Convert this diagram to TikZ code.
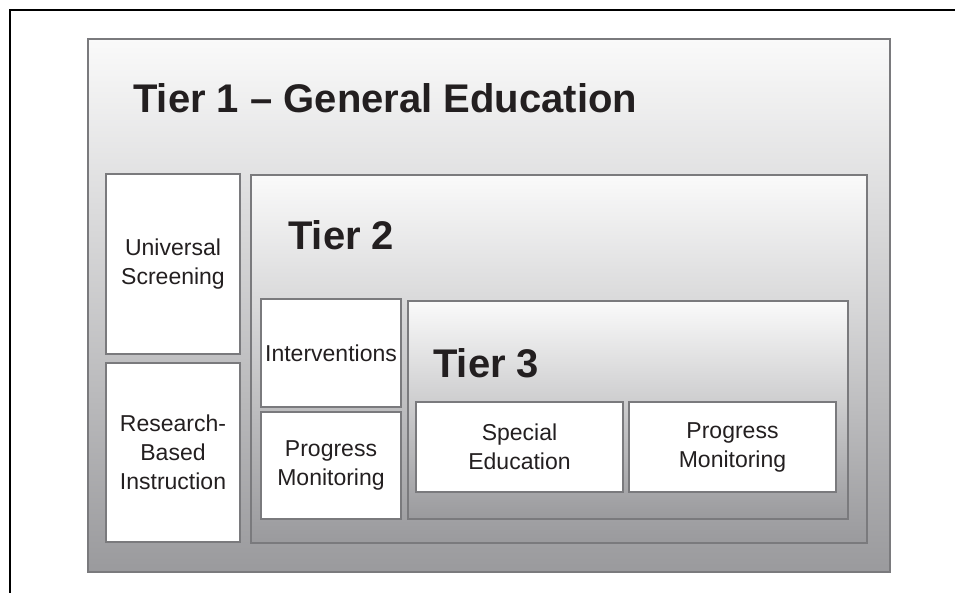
\documentclass[tikz,border=0pt]{standalone}
\usepackage{fontspec}
\setmainfont{Liberation Sans}

\definecolor{rimgray}{HTML}{7A7A7D}
\definecolor{shadetop}{HTML}{FAFAFA}
\definecolor{shadebot}{HTML}{9A9A9D}
\definecolor{inkdark}{HTML}{231F20}

\tikzset{
  tierbox/.style={draw=rimgray, line width=2pt, top color=shadetop, bottom color=shadebot,
    anchor=north west, inner sep=0pt},
  itembox/.style={draw=rimgray, line width=2pt, fill=white, align=center, text=inkdark,
    font=\fontsize{23}{29}\selectfont, inner sep=0pt},
  tierlabel/.style={font=\fontsize{40}{44}\selectfont\bfseries, text=inkdark,
    anchor=base west, inner sep=0pt}
}

\begin{document}
\begin{tikzpicture}[x=1pt, y=-1pt]
  \useasboundingbox (0,0) rectangle (955,593);
  \draw[line width=1.5pt] (10,593) -- (10,10) -- (955,10);

  % tiers
  \node[tierbox, minimum width=802pt, minimum height=533pt] (tier1) at (87,38) {};
  \node[tierlabel] (tier1lbl) at (133,113) {Tier 1 -- General Education};
  \node[itembox, minimum width=134pt, minimum height=180pt] (screen) at (173,264) {Universal\\Screening};
  \node[itembox, minimum width=134pt, minimum height=179pt] (instr) at (173,452.5) {Research-\\Based\\Instruction};

  \node[tierbox, minimum width=616pt, minimum height=368pt] (tier2) at (250,174) {};
  \node[tierlabel] (tier2lbl) at (288,250) {Tier 2};
  \node[itembox, minimum width=140pt, minimum height=108pt] (interv) at (331,353) {Interventions};
  \node[itembox, minimum width=140pt, minimum height=107pt] (monitor2) at (331,465.5) {Progress\\Monitoring};

  \node[tierbox, minimum width=440pt, minimum height=218pt] (tier3) at (407,300) {};
  \node[tierlabel] (tier3lbl) at (433,377) {Tier 3};
  \node[itembox, minimum width=207pt, minimum height=90pt] (special) at (519.5,447) {Special\\Education};
  \node[itembox, minimum width=207pt, minimum height=90pt] (monitor3) at (732.5,447) {Progress\\Monitoring};
\end{tikzpicture}
\end{document}
